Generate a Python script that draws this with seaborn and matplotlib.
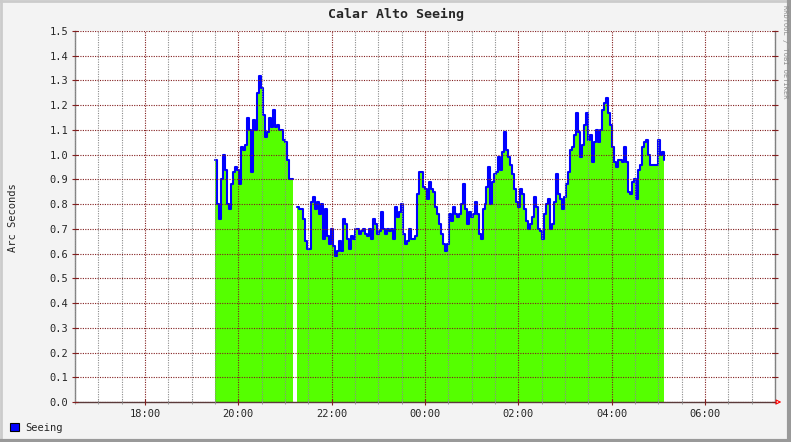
import numpy as np
import pandas as pd
import matplotlib
matplotlib.use('Agg')
import matplotlib.pyplot as plt
import matplotlib.dates as mdates
from matplotlib.lines import Line2D
from matplotlib.patches import Patch
from matplotlib.ticker import MultipleLocator, FormatStrFormatter
import seaborn as sns

# Chart data
TITLE = 'Calar Alto Seeing'
Y_LABEL = 'Arc Seconds'
SERIES = 'Seeing'
WATERMARK = 'RRDTOOL / TOBI OETIKER'
X_START = '2000-01-01 16:30'
X_END = '2000-01-02 07:30'
DATA_START = '2000-01-01 19:30'
STEP_SECONDS = 154

SEEING = [
    0.98, 0.80, 0.74, 0.90, 1.00, 0.94, 0.80, 0.78, 0.88, 0.93,
    0.95, 0.94, 0.88, 1.03, 1.02, 1.04, 1.15, 1.10, 0.93, 1.14,
    1.10, 1.25, 1.32, 1.27, 1.16, 1.07, 1.09, 1.15, 1.11, 1.18,
    1.11, 1.12, 1.10, 1.10, 1.06, 1.05, 0.98, 0.90, 0.90, 0.90,
    np.nan, 0.79, 0.78, 0.78, 0.74, 0.65, 0.62, 0.62, 0.81, 0.83,
    0.78, 0.81, 0.76, 0.80, 0.66, 0.78, 0.67, 0.64, 0.70, 0.63,
    0.59, 0.61, 0.65, 0.61, 0.74, 0.72, 0.66, 0.62, 0.67, 0.66,
    0.70, 0.70, 0.68, 0.69, 0.70, 0.68, 0.67, 0.70, 0.66, 0.74,
    0.72, 0.68, 0.69, 0.77, 0.70, 0.68, 0.70, 0.69, 0.70, 0.66,
    0.79, 0.75, 0.77, 0.80, 0.68, 0.64, 0.65, 0.70, 0.66, 0.66,
    0.67, 0.84, 0.93, 0.93, 0.87, 0.86, 0.82, 0.89, 0.86, 0.85,
    0.79, 0.76, 0.72, 0.68, 0.64, 0.61, 0.64, 0.76, 0.73, 0.79,
    0.76, 0.75, 0.76, 0.80, 0.88, 0.78, 0.72, 0.77, 0.75, 0.76,
    0.81, 0.76, 0.68, 0.66, 0.78, 0.80, 0.87, 0.95, 0.80, 0.89,
    0.92, 0.93, 0.99, 0.94, 1.01, 1.09, 1.02, 0.99, 0.96, 0.92,
    0.86, 0.81, 0.79, 0.86, 0.84, 0.78, 0.73, 0.70, 0.72, 0.75,
    0.83, 0.79, 0.70, 0.69, 0.66, 0.76, 0.80, 0.82, 0.70, 0.72,
    0.81, 0.92, 0.84, 0.82, 0.78, 0.83, 0.88, 0.93, 1.02, 1.03,
    1.08, 1.17, 1.09, 0.99, 1.04, 1.12, 1.17, 1.06, 1.08, 0.97,
    1.05, 1.10, 1.05, 1.10, 1.18, 1.21, 1.23, 1.17, 1.12, 1.03,
    0.97, 0.95, 0.98, 0.98, 0.97, 1.03, 0.97, 0.85, 0.84, 0.89,
    0.90, 0.82, 0.94, 0.96, 1.03, 1.05, 1.06, 1.00, 0.96, 0.96,
    0.96, 0.96, 1.06, 1.00, 1.01, 0.98,
]

BACK = '#F3F3F3'
GREEN = '#55FF00'
BLUE = '#0000FF'
MGRID = '#821E1E'
GRID = '#8C8C8C'

sns.set_style('white')
plt.rcParams['font.family'] = ['DejaVu Sans Mono', 'DejaVu Sans']

# Build the frame
times = pd.date_range(DATA_START, periods=len(SEEING), freq=f'{STEP_SECONDS}s')
df = pd.DataFrame({'time': times, 'seeing': SEEING})
df['segment'] = df['seeing'].isna().cumsum()

fig = plt.figure(figsize=(7.91, 4.42), dpi=100, facecolor=BACK)
ax = fig.add_axes([75 / 791, 40 / 442, 700 / 791, 371 / 442])
ax.set_facecolor('white')

ax.fill_between(df['time'], 0, df['seeing'], step='post', color=GREEN,
                linewidth=0, zorder=1)
sns.lineplot(data=df.dropna(), x='time', y='seeing', units='segment',
             estimator=None, color=BLUE, linewidth=1.5,
             drawstyle='steps-post', ax=ax, zorder=2)

ax.set_xlim(pd.Timestamp(X_START), pd.Timestamp(X_END))
ax.set_ylim(0, 1.5)
ax.set_xlabel('')
ax.set_ylabel('')

# Axes and grid
ax.xaxis.set_major_locator(mdates.HourLocator(byhour=range(0, 24, 2)))
ax.xaxis.set_minor_locator(mdates.MinuteLocator(byminute=[0, 30]))
ax.xaxis.set_major_formatter(mdates.DateFormatter('%H:%M'))
ax.yaxis.set_major_locator(MultipleLocator(0.1))
ax.yaxis.set_major_formatter(FormatStrFormatter('%.1f'))

ax.set_axisbelow(False)
dots = (0, (1, 1.2))
ax.grid(which='major', axis='both', color=MGRID, linestyle=dots, linewidth=0.8)
ax.grid(which='minor', axis='x', color=GRID, linestyle=dots, linewidth=0.8)

ax.tick_params(axis='y', which='major', direction='inout', length=4,
               color=MGRID, right=True, left=True, labelsize=7.5, pad=3)
ax.tick_params(axis='x', which='major', direction='inout', length=4,
               color=MGRID, bottom=True, labelsize=7.5, pad=3)
ax.tick_params(axis='x', which='minor', direction='inout', length=3,
               color=GRID, bottom=True)

for side in ['left', 'right', 'bottom']:
    ax.spines[side].set_visible(True)
    ax.spines[side].set_color('#808080')
    ax.spines[side].set_linewidth(1)
ax.spines['bottom'].set_color('#5A3A3A')
ax.spines['top'].set_visible(False)

# red arrow at the end of the time axis
ax.annotate('', xy=(1.013, 0), xytext=(1.0, 0), xycoords='axes fraction',
            arrowprops=dict(arrowstyle='-|>', color='red', lw=0.8,
                            mutation_scale=7, fc='white'),
            annotation_clip=False)

# Texts
fig.text(0.5, 1 - 14 / 442, TITLE, ha='center', va='center',
         fontsize=9.5, fontweight='bold')
fig.text(13 / 791, 1 - 218 / 442, Y_LABEL, ha='center', va='center',
         rotation=90, fontsize=7.5)
fig.text(784.5 / 791, 1 - 5 / 442, WATERMARK, ha='center', va='top',
         rotation=270, fontsize=5, color='#8C8C8C')

fig.legend(handles=[Patch(facecolor=BLUE, edgecolor='black', linewidth=0.8,
                          label=SERIES)],
           loc='center left', bbox_to_anchor=(5 / 791, 1 - 428 / 442),
           frameon=False, fontsize=7.5, handlelength=0.8, handleheight=0.8,
           handletextpad=0.6, borderpad=0)

# 3D style border of the image
fig.add_artist(Line2D([0, 1], [0.998, 0.998], color='#CBCBCB', lw=2,
                      transform=fig.transFigure))
fig.add_artist(Line2D([0.001, 0.001], [0, 1], color='#CBCBCB', lw=2,
                      transform=fig.transFigure))
fig.add_artist(Line2D([0, 1], [0.003, 0.003], color='#999999', lw=3,
                      transform=fig.transFigure))
fig.add_artist(Line2D([0.998, 0.998], [0, 1], color='#999999', lw=3,
                      transform=fig.transFigure))

fig.savefig('out.png', dpi=100, facecolor=BACK)
